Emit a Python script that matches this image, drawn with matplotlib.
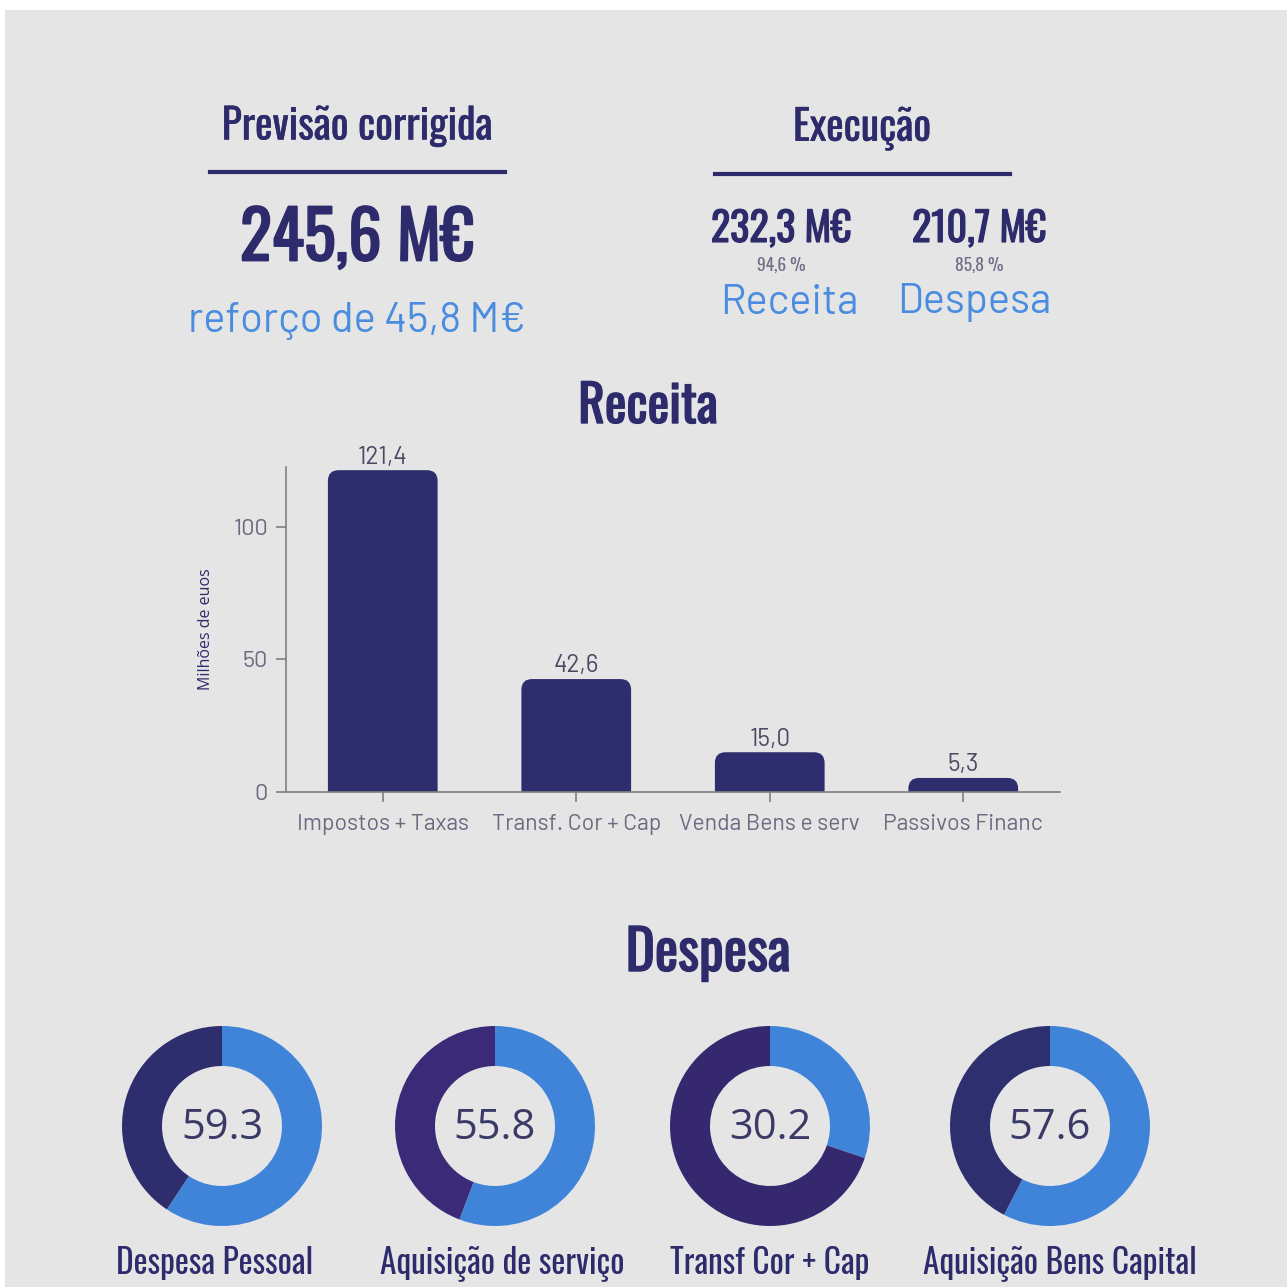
import matplotlib.pyplot as plt
import matplotlib.patheffects as pe
from matplotlib.patches import Rectangle, FancyBboxPatch

# dados
receita_cat = ['Impostos + Taxas', 'Transf. Cor + Cap', 'Venda Bens e serv', 'Passivos Financ']
receita_val = [121.4, 42.6, 15.0, 5.3]

despesa_cat = ['Despesa Pessoal', 'Aquisição de serviço', 'Transf Cor + Cap', 'Aquisição Bens Capital']
despesa_pct = [59.3, 55.8, 30.2, 57.6]

previsao = '245,6 M€'
reforco = 'reforço de 45,8 M€'
exec_valores = ['232,3 M€', '210,7 M€']
exec_pct = ['94,6 %', '85,8 %']
exec_nomes = ['Receita', 'Despesa']

# cores
NAVY = '#2e2e6e'
TXT = '#2d2b6b'
LIGHT = '#3f84d8'
LIGHT_TXT = '#4a8de0'
GRAY_TXT = '#6e6e88'
DARKS = ['#2e2e6e', '#3a2a77', '#35286f', '#2d2f6e']
BG = '#e5e5e5'

COND = 'Oswald'
DIN = 'Barlow'
SEGOE = 'Open Sans'


def negrito(lw):
    # engrossa o texto do Oswald (só existe um peso)
    return [pe.withStroke(linewidth=lw, foreground=TXT)]


fig = plt.figure(figsize=(12.87, 12.87), dpi=100)
fig.patch.set_facecolor('white')
fig.add_artist(Rectangle((5 / 1287, 0), 1 - 5 / 1287, 1 - 10 / 1287,
                         transform=fig.transFigure, facecolor=BG, edgecolor='none', zorder=-10))

def fy(py):
    return 1 - py / 1287

def fx(px):
    return px / 1287

# --------> cabeçalho
fig.text(fx(357), fy(126), 'Previsão corrigida', ha='center', va='center',
         fontsize=30, family=COND, color=TXT, path_effects=negrito(0.3))
fig.add_artist(plt.Line2D([fx(210), fx(505)], [fy(172), fy(172)], color=TXT, lw=3,
                          transform=fig.transFigure))
fig.text(fx(357), fy(240), previsao, ha='center', va='center',
         fontsize=48, family=COND, color=TXT, path_effects=negrito(1.3))
fig.text(fx(357), fy(321), reforco, ha='center', va='center',
         fontsize=30, family=DIN, color=LIGHT_TXT)

fig.text(fx(862), fy(128), 'Execução', ha='center', va='center',
         fontsize=30, family=COND, color=TXT, path_effects=negrito(0.3))
fig.add_artist(plt.Line2D([fx(715), fx(1010)], [fy(174), fy(174)], color=TXT, lw=3,
                          transform=fig.transFigure))
for cx, v, p, n, nx in zip([781, 979], exec_valores, exec_pct, exec_nomes, [789, 974]):
    fig.text(fx(cx), fy(229), v, ha='center', va='center',
             fontsize=29, family=COND, color=TXT, path_effects=negrito(0.8))
    fig.text(fx(cx), fy(265), p, ha='center', va='center',
             fontsize=12.5, family=COND, color=GRAY_TXT)
    fig.text(fx(nx), fy(303), n, ha='center', va='center',
             fontsize=30, family=DIN, color=LIGHT_TXT)

# --------> Receita (barras)
fig.text(fx(648), fy(407), 'Receita', ha='center', va='center',
         fontsize=37, family=COND, color=TXT, path_effects=negrito(1.0))

ax = fig.add_axes([fx(286), fy(792), fx(1060) - fx(286), fy(467) - fy(792)])
ax.set_facecolor('none')
x = range(len(receita_val))
bars = ax.bar(x, receita_val, width=0.567, color=NAVY)
ax.set_xlim(-0.5, 3.5)
ax.set_ylim(0, 122.6)

# cantos arredondados no topo das barras
px_x = (fx(1060) - fx(286)) * 1287 / 4.0
px_y = (fy(467) - fy(792)) * 1287 / 122.6
for b in bars:
    b.set_visible(False)
    fb = FancyBboxPatch((b.get_x(), -10), b.get_width(), b.get_height() + 10,
                        boxstyle='round,pad=0,rounding_size=0.055',
                        mutation_aspect=px_x / px_y, facecolor=NAVY, edgecolor='none')
    ax.add_patch(fb)

for i, v in enumerate(receita_val):
    ax.text(i, v + 0.6, f'{v:.1f}'.replace('.', ','), ha='center', va='bottom',
            fontsize=17.5, family=DIN, color='#4a4a62')
ax.set_xticks(list(x))
ax.set_xticklabels(receita_cat, fontsize=16.5, family=DIN)
ax.set_yticks([0, 50, 100])
ax.set_yticklabels(['0', '50', '100'], fontsize=17, family=DIN)
for s in ['top', 'right']:
    ax.spines[s].set_visible(False)
for s in ['left', 'bottom']:
    ax.spines[s].set_color('#808080')
    ax.spines[s].set_linewidth(1.2)
ax.tick_params(colors='#808080', length=7, width=1.2, pad=6)
ax.tick_params(axis='x', labelcolor='#6a6a80', pad=9)
ax.tick_params(axis='y', labelcolor='#6a6a80')
ax.set_ylabel('Milhões de euos', fontsize=11.5, family=SEGOE, color=TXT, labelpad=14)

# --------> Despesa (donuts)
fig.text(fx(708), fy(953), 'Despesa', ha='center', va='center',
         fontsize=40, family=COND, color=TXT, path_effects=negrito(1.0))

centros = [222, 495, 770, 1050]
label_x = [215, 502, 770, 1060]
r = 100
for cx, lx, pct, nome, dk in zip(centros, label_x, despesa_pct, despesa_cat, DARKS):
    dax = fig.add_axes([fx(cx - r), fy(1126 + r), fx(2 * r), fx(2 * r)])
    dax.pie([pct, 100 - pct], startangle=90, counterclock=False, colors=[LIGHT, dk],
            wedgeprops=dict(width=0.4, edgecolor='none'))
    dax.set_xlim(-1, 1)
    dax.set_ylim(-1, 1)
    dax.set_aspect('equal')
    dax.axis('off')
    dax.text(0, -0.02, f'{pct:.1f}', ha='center', va='center', fontsize=30,
             family=SEGOE, color='#3a3a66')
    fig.text(fx(lx), fy(1263), nome, ha='center', va='center',
             fontsize=24, family=COND, weight='light', color=TXT)

fig.savefig('out.png', dpi=100, facecolor=fig.get_facecolor())
